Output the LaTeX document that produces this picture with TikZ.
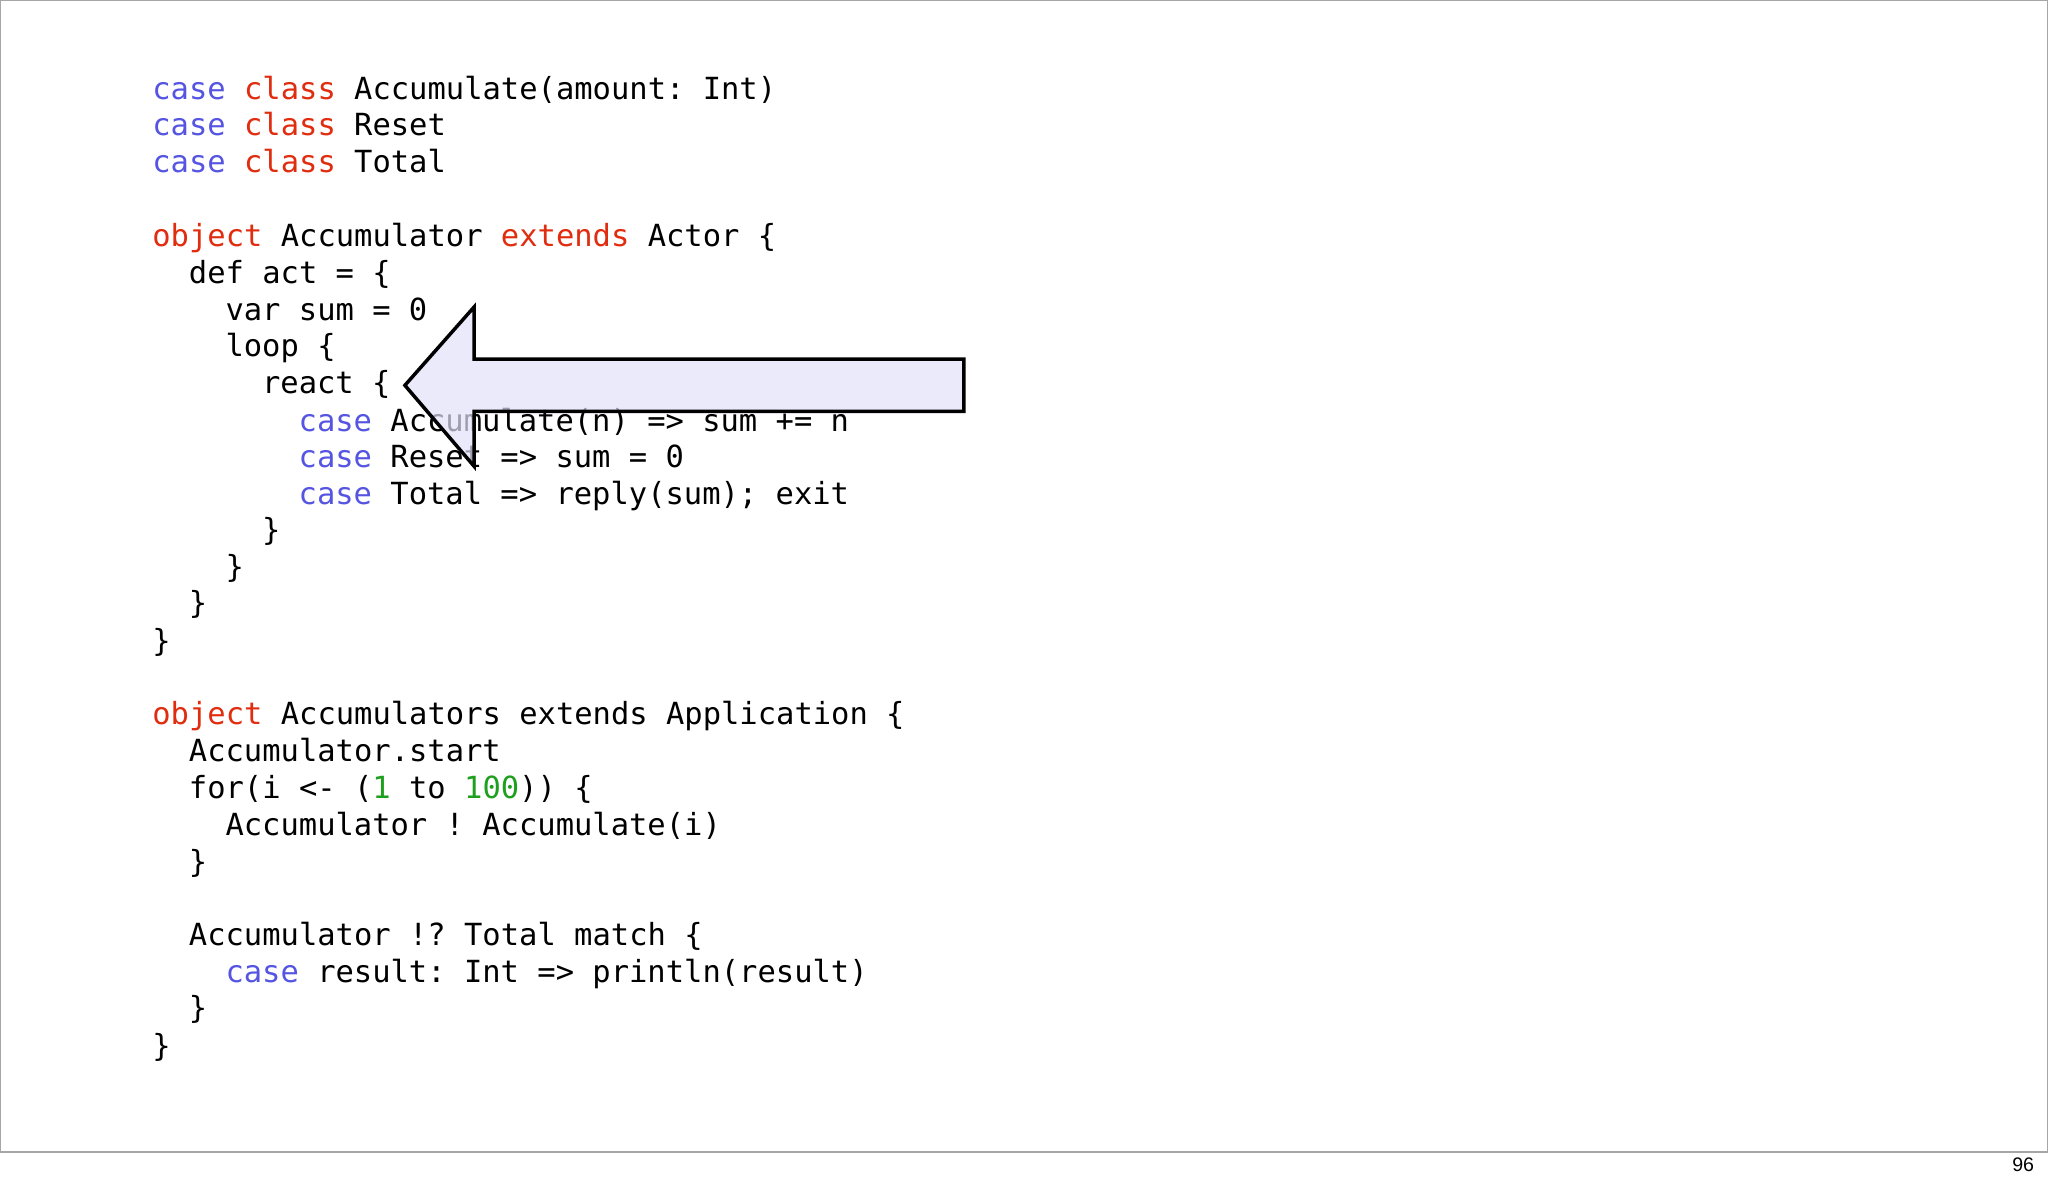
\documentclass[tikz,border=0pt]{standalone}
\usepackage{fontspec}
\setmainfont{Liberation Sans}
\setmonofont{DejaVu Sans Mono}
\definecolor{caseColour}{RGB}{85,85,225}
\definecolor{keyColour}{RGB}{225,45,15}
\definecolor{numColour}{RGB}{30,160,30}
\definecolor{arrowColour}{RGB}{225,225,250}
\newcommand{\kcase}{\textcolor{caseColour}{case}}
\newcommand{\kred}[1]{\textcolor{keyColour}{#1}}
\tikzset{codeline/.style={anchor=base west, inner sep=0pt, yshift=-0.6pt, font=\ttfamily\fontsize{7}{8}\selectfont}}
\begin{document}
\begin{tikzpicture}[x=0.3pt, y=-0.3pt]
    \useasboundingbox (0,0) rectangle (1568,907);
    \draw[gray!70, line width=0.4pt] (0,0) rectangle (1568,882);

    % case classes
    \node (l1) [codeline] at (116,74) {\kcase{} \kred{class} Accumulate(amount: Int)};
    \node (l2) [codeline] at (116,102) {\kcase{} \kred{class} Reset};
    \node (l3) [codeline] at (116,130) {\kcase{} \kred{class} Total};

    % the actor
    \node (l4) [codeline] at (116,187) {\kred{object} Accumulator \kred{extends} Actor \{};
    \node (l5) [codeline] at (144,215) {def act = \{};
    \node (l6) [codeline] at (172,243) {var sum = 0};
    \node (l7) [codeline] at (172,271) {loop \{};
    \node (l8) [codeline] at (200,299) {react \{};
    \node (l9) [codeline] at (228,328) {\kcase{} Accumulate(n) => sum += n};
    \node (l10) [codeline] at (228,356) {\kcase{} Reset => sum = 0};
    \node (l11) [codeline] at (228,384) {\kcase{} Total => reply(sum); exit};
    \node (l12) [codeline] at (200,412) {\}};
    \node (l13) [codeline] at (172,440) {\}};
    \node (l14) [codeline] at (144,468) {\}};
    \node (l15) [codeline] at (116,497) {\}};

    % the application
    \node (l16) [codeline] at (116,553) {\kred{object} Accumulators extends Application \{};
    \node (l17) [codeline] at (144,581) {Accumulator.start};
    \node (l18) [codeline] at (144,609) {for(i <- (\textcolor{numColour}{1} to \textcolor{numColour}{100})) \{};
    \node (l19) [codeline] at (172,638) {Accumulator ! Accumulate(i)};
    \node (l20) [codeline] at (144,666) {\}};
    \node (l21) [codeline] at (144,722) {Accumulator !? Total match \{};
    \node (l22) [codeline] at (172,750) {\kcase{} result: Int => println(result)};
    \node (l23) [codeline] at (144,778) {\}};
    \node (l24) [codeline] at (116,807) {\}};

    % pointer arrow
    \draw[thick, fill=arrowColour, fill opacity=0.7] (310,295) -- (363,235) -- (363,275) -- (738,275)
        -- (738,315) -- (363,315) -- (363,357) -- cycle;

    \node (page) [anchor=base east, inner sep=0pt, font=\fontsize{4.5}{5}\selectfont] at (1558,897) {96};
\end{tikzpicture}
\end{document}
